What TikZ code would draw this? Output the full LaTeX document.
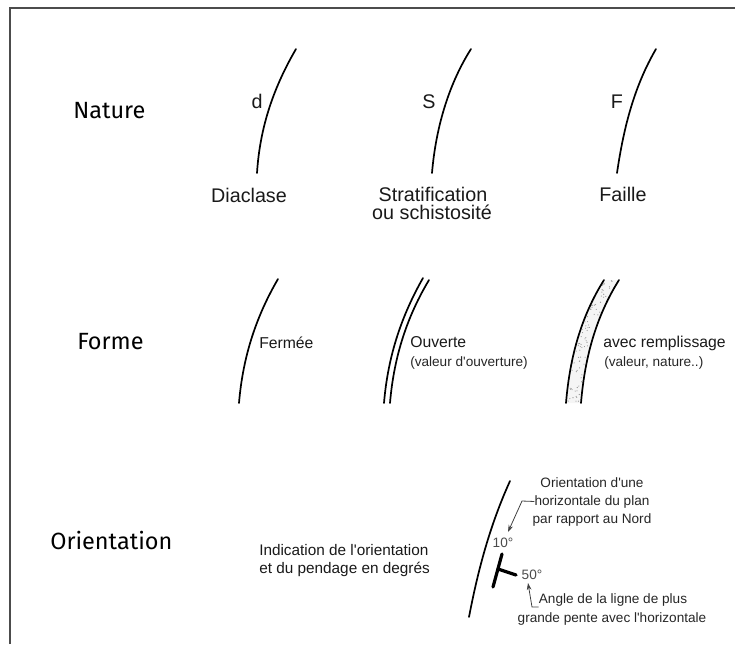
\documentclass[tikz,border=0pt]{standalone}
\usepackage{fontspec}
\setmainfont{Liberation Sans}[Ligatures=TeXOff]
\newfontfamily\handfont{Fira Sans}
\usetikzlibrary{arrows.meta}
\tikzset{
  crack/.style={line width=1.7pt*0.75, black, line cap=round, line join=round},
  title/.style={anchor=base west, inner sep=0pt, text=black, font=\handfont\fontsize{17.6}{20}\selectfont},
  lab/.style={anchor=base, inner sep=0pt, text=black!90, font=\fontsize{14.8}{18}\selectfont},
  labl/.style={anchor=base west, inner sep=0pt, text=black!90, font=\fontsize{11.8}{14}\selectfont},
  tiny/.style={inner sep=0pt, text=black!85, font=\fontsize{10.2}{12}\selectfont},
  leader/.style={line width=0.6pt, black!75, -{Stealth[length=7pt*0.75,width=3.5pt]}},
  tbar/.style={line width=3.2pt*0.75, black, line cap=round},
}
\begin{document}
\begin{tikzpicture}[x=0.75pt,y=-0.75pt]
\useasboundingbox (0,0) rectangle (735,644);
\draw[line width=1.5pt*0.75, black!70] (10,644) -- (10,8) -- (735,8);

% Nature
\node[title] (tnature) at (73,118) {Nature};
\draw[crack] (296,49) .. controls (275,85) and (260,125) .. (257,173);
\draw[crack] (471,49) .. controls (450,82) and (436,125) .. (432,173);
\draw[crack] (656,49) .. controls (635,85) and (624,125) .. (617,173);
\node[lab] (ld) at (257,108) {d};
\node[lab] (ls) at (429,108) {S};
\node[lab] (lf) at (617,108) {F};
\node[lab] (diaclase) at (249,202) {Diaclase};
\node[lab] (strat) at (433,201) {Stratification};
\node[lab] (schist) at (432,219) {ou schistosité};
\node[lab] (faille) at (623,201) {Faille};

% Forme
\node[title] (tforme) at (77,349) {Forme};
\draw[crack] (278,279) .. controls (257,315) and (243,355) .. (239,403);
\node[labl] (fermee) at (259,348) {Fermée};
\draw[crack] (423,278) .. controls (402,315) and (388,355) .. (384,403);
\draw[crack] (429,280) .. controls (408,315) and (394,355) .. (390,403);
\node[labl] (ouverte) at (410,347) {Ouverte};
\node[tiny,anchor=base west] (valouv) at (410,366) {(valeur d'ouverture)};
% filling
\fill[black!4] (604,280) .. controls (582,315) and (570,355) .. (566,403)
  -- (581,403) .. controls (585,355) and (597,315) .. (619,280) -- cycle;
\begin{scope}
  \clip (604,280) .. controls (582,315) and (570,355) .. (566,403)
  -- (581,403) .. controls (585,355) and (597,315) .. (619,280) -- cycle;
  \pgfmathsetseed{42}
  \foreach \i in {1,...,320}{
    \pgfmathsetmacro{\ty}{280+123*rnd}
    \pgfmathsetmacro{\tx}{562+60*rnd}
    \fill[black!45] (\tx,\ty) circle[radius=0.55];
  }
\end{scope}
\draw[crack] (604,280) .. controls (582,315) and (570,355) .. (566,403);
\draw[crack] (619,280) .. controls (597,315) and (585,355) .. (581,403);
\node[labl] (avec) at (603,347) {avec remplissage};
\node[tiny,anchor=base west] (valnat) at (604,366) {(valeur, nature..)};

% Orientation
\node[title] (torient) at (50,549) {Orientation};
\node[labl,font=\fontsize{11.5}{14}\selectfont] (ind1) at (259,555) {Indication de l'orientation};
\node[labl,font=\fontsize{11.5}{14}\selectfont] (ind2) at (259,573) {et du pendage en degrés};
\draw[crack] (510,481) .. controls (490,525) and (478,570) .. (469,617);
\draw[tbar] (502,554) -- (493,587);
\draw[tbar] (498,569) -- (516,575);
\node[tiny,anchor=base] (o1) at (592,487) {Orientation d'une};
\node[tiny,anchor=base] (o2) at (592,505) {horizontale du plan};
\node[tiny,anchor=base] (o3) at (592,523) {par rapport au Nord};
\node[tiny,anchor=base,text=black!70] (dix) at (503,547) {10°};
\node[tiny,anchor=base,text=black!70] (cinq) at (532,579) {50°};
\node[tiny,anchor=base] (a1) at (613,603) {Angle de la ligne de plus};
\node[tiny,anchor=base] (a2) at (612,622) {grande pente avec l'horizontale};
\coordinate (tip1) at (508,532);
\coordinate (tip2) at (528,583);
\draw[leader] (o2.west) -- (522,501) -- (tip1);
\draw[leader] (a1.west |- 0,607) -- (532,607) -- (tip2);
\end{tikzpicture}
\end{document}
